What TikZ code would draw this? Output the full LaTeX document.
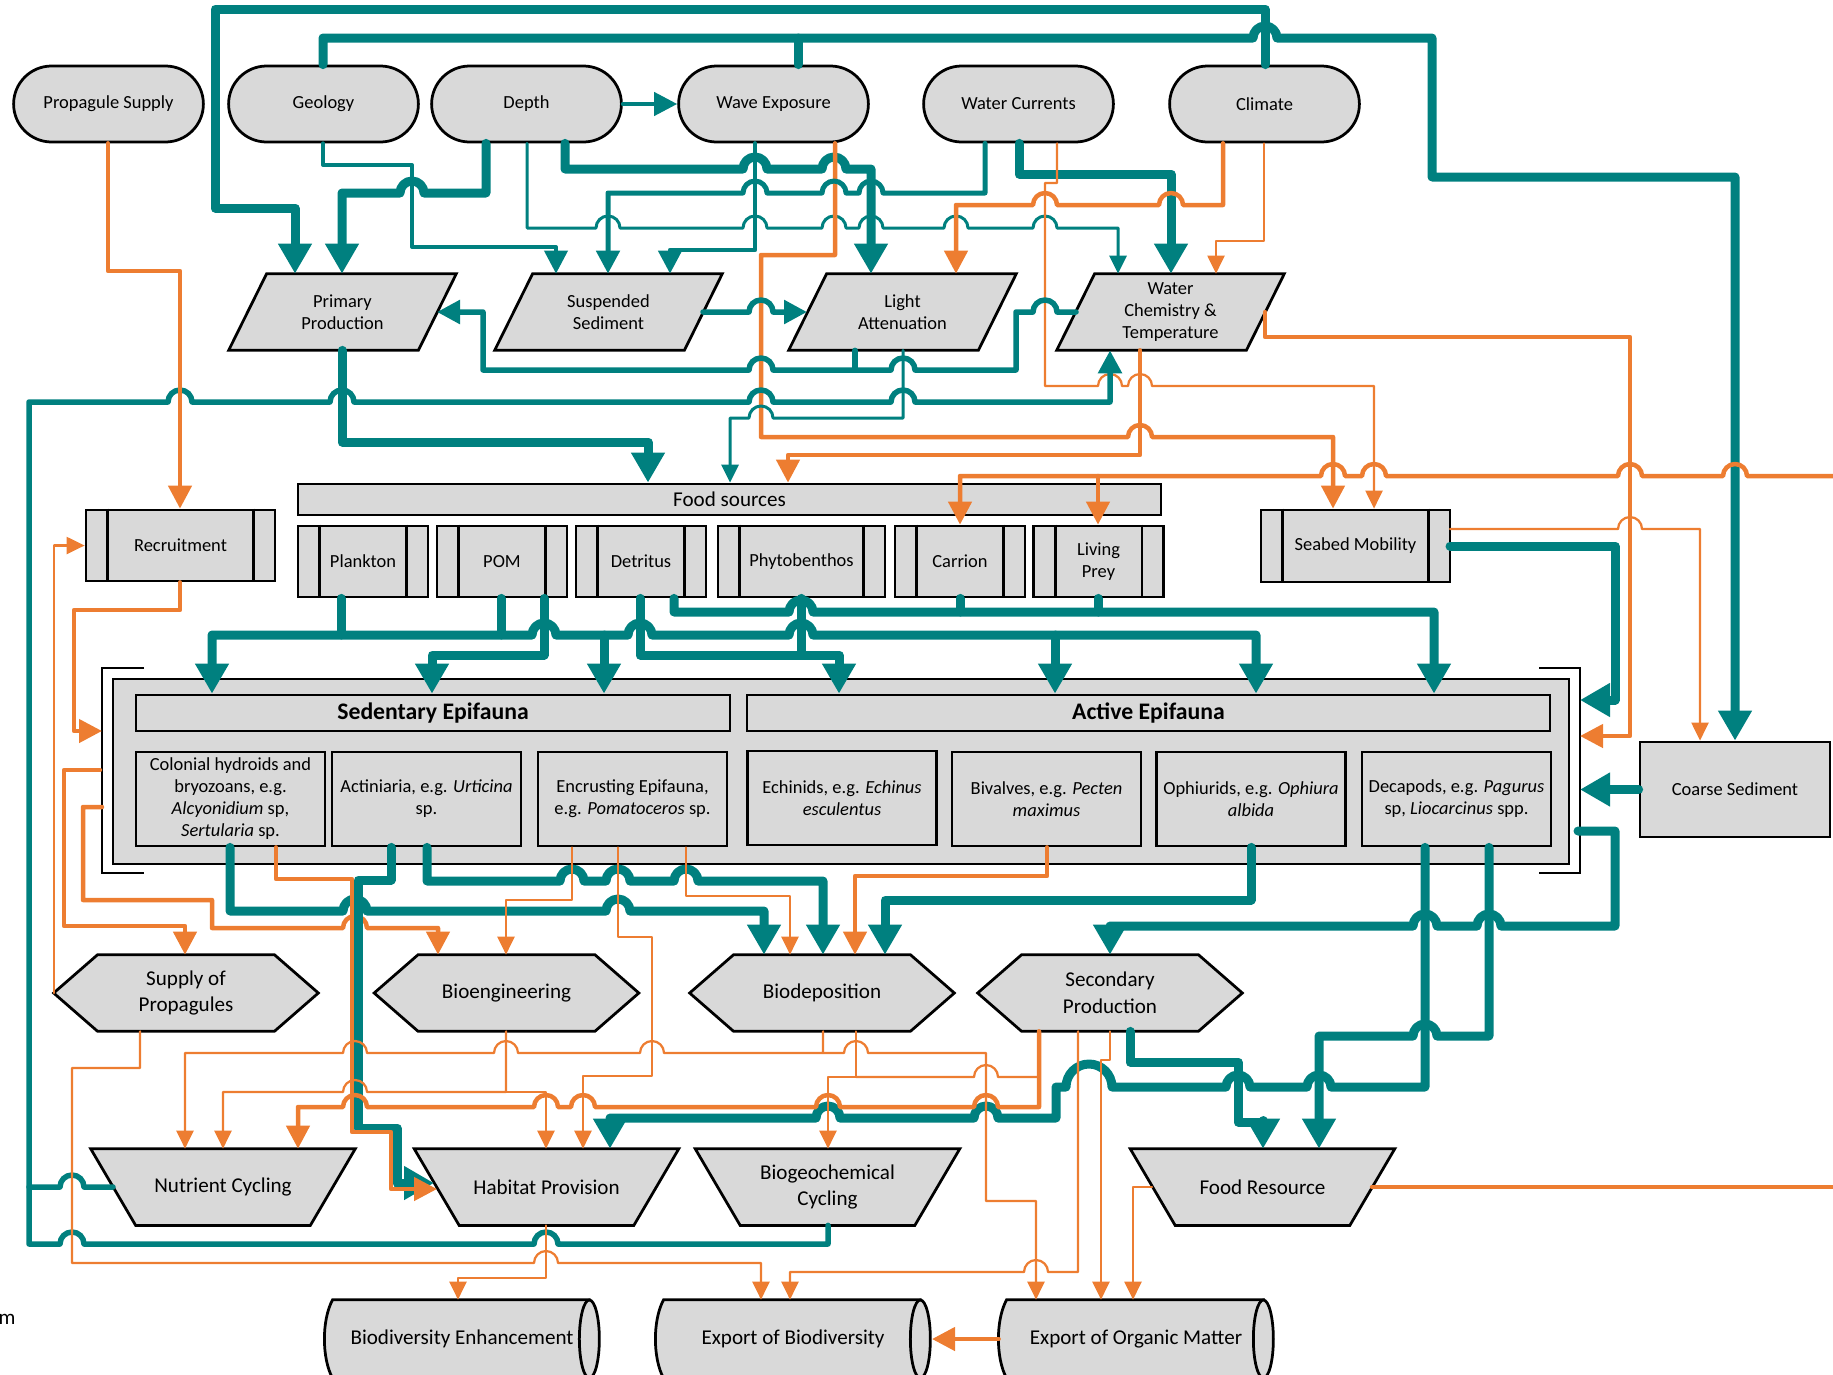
\documentclass[tikz,border=0pt]{standalone}
\usepackage{fontspec}
\setmainfont{Carlito}
\usetikzlibrary{arrows.meta,shapes.misc}
\definecolor{teal0}{HTML}{00807F}
\definecolor{orng}{HTML}{ED7D31}
\definecolor{shade}{HTML}{D9D9D9}
\pgfdeclarelayer{bg}
\pgfsetlayers{bg,main}
\newcommand{\fsm}{\fontsize{10.5}{12.5}\selectfont}
\newcommand{\fbg}{\fontsize{12}{15.3}\selectfont}
\newcommand{\fhd}{\fontsize{13.5}{16}\selectfont\bfseries}
\newcommand{\hopr}[2]{-- (#1-12,#2) arc[start angle=180,end angle=0,radius=2.4mm]}
\newcommand{\hopl}[2]{-- (#1+12,#2) arc[start angle=0,end angle=180,radius=2.4mm]}

\begin{document}
\begin{tikzpicture}[x=0.2mm,y=-0.2mm,
  term/.style={rounded rectangle,draw,fill=shade,line width=0.55mm,minimum width=40.3mm,minimum height=15.2mm,font=\fsm},
  pg/.style={minimum width=45.4mm,minimum height=15.2mm,align=center,font=\fsm,inner sep=0pt},
  proc/.style={draw,fill=shade,line width=0.55mm,minimum height=14.2mm,align=center,font=\fsm,inner sep=0pt},
  box/.style={draw,fill=shade,line width=0.55mm,align=center,font=\fsm,inner sep=0pt},
  sp/.style={box,minimum width=37.8mm,minimum height=18.8mm},
  hx/.style={minimum width=52.8mm,minimum height=15.2mm,align=center,font=\fbg,inner sep=0pt},
  dd/.style={minimum width=54.8mm,minimum height=15.6mm,font=\fbg,inner sep=0pt},
  shp/.style={draw,fill=shade,line width=0.55mm,line join=miter},
  con/.style={line cap=round,line join=round},
  tk/.style={con,color=teal0,line width=1.8mm,>={Triangle[length=6mm,width=6.4mm]}},
  tm/.style={con,color=teal0,line width=1.1mm,>={Triangle[length=4.6mm,width=4.6mm]}},
  tt/.style={con,color=teal0,line width=0.6mm,>={Triangle[length=3.6mm,width=3.4mm]}},
  om/.style={con,color=orng,line width=0.9mm,>={Triangle[length=4.6mm,width=4.6mm]}},
  ot/.style={con,color=orng,line width=0.45mm,>={Triangle[length=3.6mm,width=3.4mm]}}]
\useasboundingbox (0,0) rectangle (1833,1374);
\clip (0,0) rectangle (1833,1374);

\node[term] (prop) at (108.5,104) {Propagule Supply};
\node[term] (geo) at (323.5,104) {Geology};
\node[term] (dep) at (526.5,104) {Depth};
\node[term] (wave) at (773.5,104) {Wave Exposure};
\node[term] (curr) at (1018.5,104) {Water Currents};
\node[term] (clim) at (1264.5,104) {Climate};

\node[pg] (pp) at (342.5,312) {Primary\\Production};
\node[pg] (ss) at (608.5,312) {Suspended\\Sediment};
\node[pg] (la) at (902.5,312) {Light\\Attenuation};
\node[pg] (wc) at (1170.5,312) {Water\\Chemistry \&\\Temperature};

\node[proc,minimum width=37.8mm] (rec) at (180.5,545.5) {Recruitment};
\node[box,minimum width=172.6mm,minimum height=6.2mm,font=\fbg] (fs) at (729.5,499.5) {Food sources};
\node[proc,minimum width=26mm] (plk) at (363,561.5) {Plankton};
\node[proc,minimum width=26mm] (pom) at (502,561.5) {POM};
\node[proc,minimum width=26mm] (det) at (641,561.5) {Detritus};
\node[proc,minimum width=33.4mm] (phy) at (801.5,561.5) {Phytobenthos};
\node[proc,minimum width=26mm] (car) at (960,561.5) {Carrion};
\node[proc,minimum width=26mm] (liv) at (1098.5,561.5) {Living\\Prey};
\node[proc,minimum width=37.8mm,minimum height=14.4mm] (sea) at (1355.5,546) {Seabed Mobility};
\foreach \n in {rec,plk,pom,det,phy,car,liv,sea}
  \draw[line width=0.55mm] ([xshift=4.6mm]\n.north west) -- ([xshift=4.6mm]\n.south west)
    ([xshift=-4.6mm]\n.north east) -- ([xshift=-4.6mm]\n.south east);

\node[box,minimum width=291.2mm,minimum height=37mm] (epi) at (841,771.5) {};
\draw[line width=0.55mm] (144,668) -- (102,668) -- (102,873) -- (144,873)
  (1539,668) -- (1580,668) -- (1580,873) -- (1539,873);
\node[box,minimum width=118.8mm,minimum height=7.2mm,font=\fhd] (sed) at (433,713) {Sedentary Epifauna};
\node[box,minimum width=160.6mm,minimum height=7.2mm,font=\fhd] (acth) at (1148.5,713) {Active Epifauna};
\node[sp] (col) at (230.5,799) {Colonial hydroids and\\bryozoans, e.g.\\\textit{Alcyonidium} sp,\\\textit{Sertularia} sp.};
\node[sp] (act1) at (426.5,799) {Actiniaria, e.g. \textit{Urticina}\\sp.};
\node[sp] (enc) at (632.5,799) {Encrusting Epifauna,\\e.g. \textit{Pomatoceros} sp.};
\node[sp] (ech) at (842,798) {Echinids, e.g. \textit{Echinus}\\\textit{esculentus}};
\node[sp] (biv) at (1046.5,799) {Bivalves, e.g. \textit{Pecten}\\\textit{maximus}};
\node[sp] (oph) at (1251,799) {Ophiurids, e.g. \textit{Ophiura}\\\textit{albida}};
\node[sp] (dec) at (1456.5,799) {Decapods, e.g. \textit{Pagurus}\\sp, \textit{Liocarcinus} spp.};
\node[box,minimum width=38mm,minimum height=19mm] (coarse) at (1735,789.5) {Coarse Sediment};

\node[hx] (sup) at (186,993) {Supply of\\Propagules};
\node[hx] (bioe) at (506.5,993) {Bioengineering};
\node[hx] (biod) at (822,993) {Biodeposition};
\node[hx] (sec) at (1110,993) {Secondary\\Production};
\node[hx] (nut) at (223,1187) {Nutrient Cycling};
\node[hx] (hab) at (546.5,1187) {Habitat Provision};
\node[hx] (bgc) at (827.5,1187) {Biogeochemical\\Cycling};
\node[hx] (food) at (1262.5,1187) {Food Resource};
\node[dd] (bde) at (462,1339) {Biodiversity Enhancement};
\node[dd] (ebd) at (793,1339) {Export of Biodiversity};
\node[dd] (eom) at (1136,1339) {Export of Organic Matter};
\node[font=\fbg] (mtxt) at (7,1319) {m};

\begin{pgfonlayer}{bg}
\foreach \n in {pp,ss,la,wc}
  \filldraw[shp] ([xshift=7.6mm]\n.north west) -- (\n.north east) -- ([xshift=-7.6mm]\n.south east) -- (\n.south west) -- cycle;
\foreach \n in {sup,bioe,biod,sec}
  \filldraw[shp] (\n.west) -- ([xshift=8.8mm]\n.north west) -- ([xshift=-8.8mm]\n.north east) -- (\n.east)
    -- ([xshift=-8.8mm]\n.south east) -- ([xshift=8.8mm]\n.south west) -- cycle;
\foreach \n in {nut,hab,bgc,food}
  \filldraw[shp] (\n.north west) -- (\n.north east) -- ([xshift=-9mm]\n.south east) -- ([xshift=9mm]\n.south west) -- cycle;
\foreach \n in {bde,ebd,eom} {
  \filldraw[shp] ([xshift=1.6mm]\n.north west) -- ([xshift=-2mm]\n.north east) -- ([xshift=-2mm]\n.south east)
    -- ([xshift=1.6mm]\n.south west) .. controls ([xshift=-0.6mm,yshift=4mm]\n.south west) and ([xshift=-0.6mm,yshift=-4mm]\n.north west) .. ([xshift=1.6mm]\n.north west) -- cycle;
  \filldraw[shp] ([xshift=-2mm]\n.east) ellipse[x radius=2mm,y radius=7.8mm];
}
\end{pgfonlayer}

\draw[tk,->] (1265,0 |- clim.north) -- (1265,9) -- (215,9) -- (215,208) -- (295,208) -- (295,0 |- pp.north);
\draw[tk,->] (323,0 |- geo.north) -- (323,38) \hopr{1265}{38} -- (1432,38) -- (1432,177) -- (1735,177) -- (1735,0 |- coarse.north);
\draw[tk] (798,0 |- wave.north) -- (798,38);
\draw[tm,line width=0.8mm,->] (dep.east) -- (wave.west);
\draw[tk,->] (486,0 |- dep.south) -- (486,193) \hopl{412}{193} -- (342,193) -- (342,0 |- pp.north);
\draw[tt,->] (527,0 |- dep.south) -- (527,228) \hopr{608}{228} \hopr{755}{228} \hopr{834}{228} \hopr{871}{228} \hopr{956}{228} \hopr{1045}{228} -- (1118,228) -- (1118,0 |- wc.north);
\draw[tk,->] (565,0 |- dep.south) -- (565,169) \hopr{755}{169} \hopr{834}{169} -- (871,169) -- (871,0 |- la.north);
\draw[tm,line width=0.8mm,->] (323,0 |- geo.south) -- (323,165) -- (412,165) -- (412,247) -- (556,247) -- (556,0 |- ss.north);
\draw[tm,line width=0.9mm,->] (755,0 |- wave.south) -- (755,250) -- (670,250) -- (670,0 |- ss.north);
\draw[om,->] (835,0 |- wave.south) -- (835,255) -- (761,255) -- (761,437) \hopr{1140}{437} -- (1333,437) -- (1333,0 |- sea.north);
\draw[tm,line width=1mm,->] (985,0 |- curr.south) -- (985,193) \hopl{871}{193} \hopl{834}{193} \hopl{755}{193} -- (608,193) -- (608,0 |- ss.north);
\draw[tk,->] (1019,0 |- curr.south) -- (1019,174) -- (1171,174) -- (1171,0 |- wc.north);
\draw[ot,->] (1057,0 |- curr.south) -- (1057,183) -- (1045,183) -- (1045,386) \hopr{1110}{386} \hopr{1140}{386} -- (1374,386) -- (1374,0 |- sea.north);
\draw[om,->] (1223,0 |- clim.south) -- (1223,205) \hopl{1171}{205} \hopl{1045}{205} -- (956,205) -- (956,0 |- la.north);
\draw[ot,->] (1264,0 |- clim.south) -- (1264,241) -- (1216,241) -- (1216,0 |- wc.north);

\draw[tm,->] (703,0 |- ss) \hopr{761}{312} -- (807,0 |- la);
\draw[tm,->] (1076,0 |- wc) \hopl{1045}{312} -- (1016,312) -- (1016,370) \hopl{903}{370} \hopl{761}{370} -- (483,370) -- (483,312) -- (437,0 |- pp);
\draw[tm] (855,0 |- la.south) -- (855,370);
\draw[tm,->] (113,0 |- nut) \hopl{72}{1187} -- (29,1187) -- (29,402) \hopr{180}{402} \hopr{342}{402} \hopr{761}{402} \hopr{903}{402} -- (1110,402) -- (1110,0 |- wc.south);
\draw[tm] (828,0 |- bgc.south) -- (828,1244) \hopl{546}{1244} \hopl{72}{1244} -- (29,1244) -- (29,1187);
\draw[tt,->] (903,0 |- la.south) -- (903,418) \hopl{761}{418} -- (730,418) -- (730,0 |- fs.north);
\draw[tk,->] (342,0 |- pp.south) -- (342,442) -- (648,442) -- (648,0 |- fs.north);
\draw[om,->] (1140,0 |- wc.south) -- (1140,455) -- (788,455) -- (788,0 |- fs.north);
\draw[om,->] (1265,0 |- wc) -- (1265,337) -- (1630,337) -- (1630,736) -- (1580,736);
\draw[om,->] (1833,476) \hopl{1735}{476} \hopl{1630}{476} \hopl{1374}{476} \hopl{1333}{476} -- (960,476) -- (960,0 |- car.north);
\draw[om,->] (1098,476) -- (1098,0 |- liv.north);
\draw[ot,->] (1450,529) \hopr{1630}{529} -- (1700,529) -- (1700,0 |- coarse.north);
\draw[tk,->] (1450,546) -- (1615,546) -- (1615,700) -- (1580,700);
\draw[tk,->] (coarse.west) -- (1580,0 |- coarse.west);

\draw[tk] (341,0 |- plk.south) -- (341,635);
\draw[tk] (501,0 |- pom.south) -- (501,635);
\draw[tk,<->] (212,0 |- sed.north) -- (212,635) \hopr{544}{635} \hopr{640}{635} \hopr{801}{635} -- (1256,635) -- (1256,0 |- acth.north);
\draw[tk,->] (604,635) -- (604,0 |- sed.north);
\draw[tk,->] (1055,635) -- (1055,0 |- acth.north);
\draw[tk,->] (544,0 |- pom.south) -- (544,655) -- (432,655) -- (432,0 |- sed.north);
\draw[tk,->] (640,0 |- det.south) -- (640,655) -- (839,655) -- (839,0 |- acth.north);
\draw[tk] (801,0 |- phy.south) -- (801,655);
\draw[tk,->] (674,0 |- det.south) -- (674,612) \hopr{801}{612} -- (1434,612) -- (1434,0 |- acth.north);
\draw[tk] (960,0 |- car.south) -- (960,612);
\draw[tk] (1098,0 |- liv.south) -- (1098,612);

\draw[om,->] (108,0 |- prop.south) -- (108,271) -- (180,271) -- (180,0 |- rec.north);
\draw[om,->] (180,0 |- rec.south) -- (180,610) -- (74,610) -- (74,731) -- (102,731);
\draw[ot,->] (sup.west) |- (rec.west);
\draw[om,->] (100,770) -- (64,770) -- (64,926) -- (185,926) -- (185,0 |- sup.north);
\draw[om,->] (102,807) -- (83,807) -- (83,900) -- (212,900) -- (212,928) \hopr{355}{928} -- (438,928) -- (438,0 |- bioe.north);

\draw[tk,->] (230,0 |- col.south) -- (230,911) \hopr{355}{911} \hopr{618}{911} -- (764,911) -- (764,0 |- biod.north);
\draw[tk,->] (391,0 |- act1.south) -- (391,880) -- (358,880) -- (358,1128) -- (397,1128) -- (397,1183) -- (434,1183);
\draw[om,->] (276,0 |- col.south) -- (276,879) -- (352,879) -- (352,1132) -- (391,1132) -- (391,1189) -- (437,1189);
\draw[tk,->] (427,0 |- act1.south) -- (427,881) \hopr{572}{881} \hopr{618}{881} \hopr{686}{881} -- (823,881) -- (823,0 |- biod.north);
\draw[ot,->] (572,0 |- enc.south) -- (572,900) -- (506,900) -- (506,0 |- bioe.north);
\draw[ot,->] (618,0 |- enc.south) -- (618,937) -- (652,937) -- (652,1076) -- (583,1076) -- (583,0 |- hab.north);
\draw[ot,->] (686,0 |- enc.south) -- (686,896) -- (790,896) -- (790,0 |- biod.north);
\draw[om,->] (1047,0 |- biv.south) -- (1047,876) -- (855,876) -- (855,0 |- biod.north);
\draw[tk,->] (1251,0 |- oph.south) -- (1251,900) -- (885,900) -- (885,0 |- biod.north);

\draw[tk,->] (1578,831) -- (1615,831) -- (1615,926) \hopl{1489}{926} \hopl{1425}{926} -- (1110,926) -- (1110,0 |- sec.north);
\draw[tk,->] (1489,0 |- dec.south) -- (1489,1036) \hopl{1425}{1036} -- (1319,1036) -- (1319,0 |- food.north);
\draw[tk,->] (1425,0 |- dec.south) -- (1425,1087) \hopl{1319}{1087} \hopl{1238}{1087} -- (1112,1087) arc[start angle=0,end angle=180,radius=4.6mm] -- (1056,1087) -- (1056,1118) \hopl{986}{1118} \hopl{828}{1118} -- (610,1118) -- (610,0 |- hab.north);
\draw[tk,->] (1130,0 |- sec.south) -- (1130,1062) -- (1238,1062) -- (1238,1122) -- (1263,1122) -- (1263,0 |- food.north);

\draw[om,->] (1039,0 |- sec.south) -- (1039,1107) \hopl{986}{1107} \hopl{828}{1107} \hopl{583}{1107} \hopl{546}{1107} \hopl{355}{1107} -- (298,1107) -- (298,0 |- nut.north);
\draw[ot] (1039,1077) \hopl{986}{1077} -- (856,1077);
\draw[ot,->] (856,0 |- biod.south) -- (856,1077) -- (828,1077) -- (828,0 |- bgc.north);
\draw[ot,->] (1078,0 |- sec.south) -- (1078,1272) \hopl{1036}{1272} -- (790,1272) -- (790,0 |- ebd.north);
\draw[ot,->] (1110,0 |- sec.south) -- (1110,1060) -- (1101,1060) -- (1101,0 |- eom.north);
\draw[ot,->] (1152,1187) -- (1133,1187) -- (1133,0 |- eom.north);
\draw[om] (1372,1187) -- (1833,1187);
\draw[om,->] (eom.west) -- (932,0 |- eom.west);
\draw[ot,->] (823,0 |- biod.south) -- (823,1053) \hopl{652}{1053} \hopl{506}{1053} \hopl{355}{1053} -- (185,1053) -- (185,0 |- nut.north);
\draw[ot,->] (823,1053) \hopr{856}{1053} -- (986,1053) -- (986,1201) -- (1036,1201) -- (1036,0 |- eom.north);
\draw[ot,->] (506,0 |- bioe.south) -- (506,1092) \hopl{355}{1092} -- (223,1092) -- (223,0 |- nut.north);
\draw[ot,->] (506,1092) -- (546,1092) -- (546,0 |- hab.north);
\draw[ot,->] (546,0 |- hab.south) -- (546,1278) -- (458,1278) -- (458,0 |- bde.north);
\draw[ot,->] (140,0 |- sup.south) -- (140,1068) -- (72,1068) -- (72,1263) \hopr{546}{1263} -- (761,1263) -- (761,0 |- ebd.north);
\end{tikzpicture}
\end{document}
